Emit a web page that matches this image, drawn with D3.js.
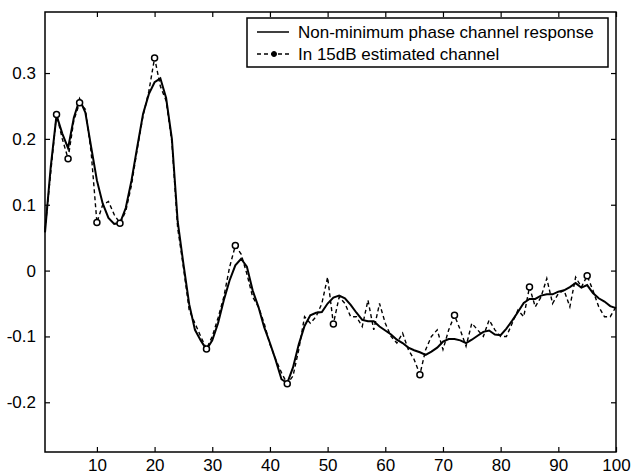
<!DOCTYPE html>
<html>
<head>
<meta charset="utf-8">
<script src="https://cdn.jsdelivr.net/npm/d3@7"></script>
<style>
  body { margin: 0; background: #fff; }
  #graf { width: 640px; height: 474px; }
  text { font-family: "Liberation Sans", Arial, sans-serif; fill: #000; }
</style>
</head>
<body>
<div id="graf"></div>
<script>
// channel taps 1..100
const response = [
  0.058, 0.158, 0.236, 0.208, 0.186, 0.232, 0.260, 0.240, 0.188, 0.137,
  0.102, 0.080, 0.071, 0.072, 0.095, 0.137, 0.188, 0.238, 0.268, 0.286,
  0.292, 0.262, 0.200, 0.075, 0.010, -0.051, -0.090, -0.106, -0.120, -0.106,
  -0.080, -0.045, -0.015, 0.008, 0.018, 0.006, -0.030, -0.055, -0.086, -0.110,
  -0.136, -0.165, -0.171, -0.147, -0.112, -0.084, -0.068, -0.064, -0.063, -0.050,
  -0.041, -0.038, -0.042, -0.052, -0.064, -0.075, -0.077, -0.077, -0.085, -0.091,
  -0.097, -0.105, -0.110, -0.117, -0.121, -0.124, -0.128, -0.123, -0.117, -0.108,
  -0.104, -0.104, -0.106, -0.110, -0.105, -0.099, -0.093, -0.091, -0.097, -0.098,
  -0.088, -0.076, -0.063, -0.049, -0.043, -0.043, -0.038, -0.036, -0.036, -0.032,
  -0.030, -0.025, -0.019, -0.026, -0.022, -0.034, -0.042, -0.047, -0.054, -0.057
]

const estimated = [
  0.062, 0.150, 0.237, 0.200, 0.170, 0.228, 0.255, 0.245, 0.180, 0.073,
  0.100, 0.105, 0.085, 0.072, 0.090, 0.130, 0.185, 0.235, 0.272, 0.323,
  0.280, 0.258, 0.195, 0.065, 0.005, -0.060, -0.080, -0.100, -0.119, -0.100,
  -0.072, -0.040, 0.005, 0.038, 0.025, -0.005, -0.040, -0.055, -0.080, -0.112,
  -0.135, -0.155, -0.172, -0.160, -0.120, -0.070, -0.080, -0.070, -0.050, -0.010,
  -0.081, -0.040, -0.050, -0.070, -0.070, -0.085, -0.045, -0.090, -0.050, -0.080,
  -0.100, -0.110, -0.095, -0.120, -0.135, -0.158, -0.120, -0.100, -0.090, -0.120,
  -0.090, -0.068, -0.090, -0.115, -0.080, -0.090, -0.100, -0.075, -0.090, -0.100,
  -0.100, -0.080, -0.060, -0.070, -0.025, -0.055, -0.040, -0.012, -0.050, -0.035,
  -0.030, -0.055, -0.010, -0.025, -0.008, -0.030, -0.055, -0.070, -0.070, -0.055
]

// taps where the circle marker shows
const markerTaps = [3, 5, 7, 10, 14, 20, 29, 34, 43, 51, 66, 72, 85, 95]

const xTicks = [10, 20, 30, 40, 50, 60, 70, 80, 90, 100]
const yTicks = [-0.2, -0.1, 0, 0.1, 0.2, 0.3]

const legendLabels = ['Non-minimum phase channel response', 'In 15dB estimated channel']

const mLeft = 45, mRight = 616, mTop = 12, mBottom = 452

const svg = d3.select('#graf')
  .append('svg')
  .attr('width', 640)
  .attr('height', 474)

const x = d3.scaleLinear().domain([1, 100]).range([mLeft, mRight])
const y = d3.scaleLinear().domain([-0.2755, 0.3927]).range([mBottom, mTop])

const fmt = d => d === 0 ? '0' : String(d)

// axes, ticks pointing inward like matlab
const xAxis = d3.axisBottom(x).tickValues(xTicks).tickSizeInner(-5).tickSizeOuter(0).tickPadding(7)
const yAxis = d3.axisLeft(y).tickValues(yTicks).tickFormat(fmt).tickSizeInner(-5).tickSizeOuter(0).tickPadding(9)
const xTop = d3.axisTop(x).tickValues(xTicks).tickSizeInner(-5).tickSizeOuter(0).tickFormat('')
const yRight = d3.axisRight(y).tickValues(yTicks).tickSizeInner(-5).tickSizeOuter(0).tickFormat('')

svg.append('g').attr('transform', `translate(0, ${mBottom})`).call(xAxis)
svg.append('g').attr('transform', `translate(${mLeft}, 0)`).call(yAxis)
svg.append('g').attr('transform', `translate(0, ${mTop})`).call(xTop)
svg.append('g').attr('transform', `translate(${mRight}, 0)`).call(yRight)

svg.selectAll('.domain').remove()
svg.selectAll('.tick line').attr('stroke', '#000').attr('stroke-width', 1.2)
svg.selectAll('.tick text').style('font-size', '17px').style('font-family', '"Liberation Sans", Arial, sans-serif')

const line = d3.line()
  .x((d, i) => x(i + 1))
  .y(d => y(d))

svg.append('path')
  .datum(estimated)
  .attr('d', line)
  .attr('fill', 'none')
  .attr('stroke', '#000')
  .attr('stroke-width', 1.4)
  .attr('stroke-dasharray', '4,3')

svg.append('path')
  .datum(response)
  .attr('d', line)
  .attr('fill', 'none')
  .attr('stroke', '#000')
  .attr('stroke-width', 2)

svg.selectAll('circle.mk')
  .data(markerTaps)
  .enter()
  .append('circle')
  .attr('class', 'mk')
  .attr('cx', d => x(d))
  .attr('cy', d => y(estimated[d - 1]))
  .attr('r', 3)
  .attr('fill', '#fff')
  .attr('stroke', '#000')
  .attr('stroke-width', 1.5)

// frame
svg.append('rect')
  .attr('x', mLeft)
  .attr('y', mTop)
  .attr('width', mRight - mLeft)
  .attr('height', mBottom - mTop)
  .attr('fill', 'none')
  .attr('stroke', '#000')
  .attr('stroke-width', 1.5)

// legend
const lg = svg.append('g').attr('transform', 'translate(247, 18)')
lg.append('rect')
  .attr('width', 361)
  .attr('height', 49)
  .attr('fill', '#fff')
  .attr('stroke', '#000')
  .attr('stroke-width', 1.5)

lg.append('line')
  .attr('x1', 10).attr('x2', 42).attr('y1', 14).attr('y2', 14)
  .attr('stroke', '#000').attr('stroke-width', 1.5)
lg.append('line')
  .attr('x1', 10).attr('x2', 44).attr('y1', 36).attr('y2', 36)
  .attr('stroke', '#000').attr('stroke-width', 1.4)
  .attr('stroke-dasharray', '4,3')
lg.append('circle')
  .attr('cx', 27).attr('cy', 36).attr('r', 2.5)
  .attr('fill', '#000').attr('stroke', '#000')

lg.selectAll('text.lab')
  .data(legendLabels)
  .enter()
  .append('text')
  .attr('class', 'lab')
  .attr('x', 51)
  .attr('y', (d, i) => 20 + i * 22)
  .style('font-size', '17px')
  .text(d => d)
</script>
</body>
</html>
